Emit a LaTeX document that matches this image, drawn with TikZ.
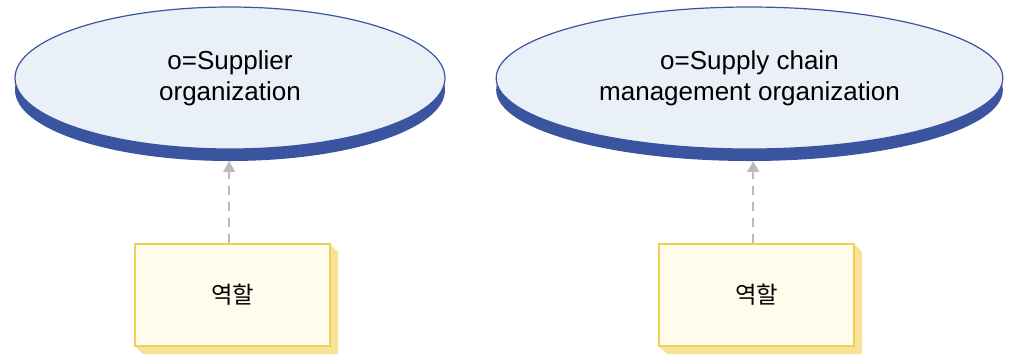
\documentclass[tikz,border=0pt]{standalone}
\usepackage{fontspec}
\setmainfont{Liberation Sans}
\newfontfamily\krfont{Noto Sans CJK KR}
\usetikzlibrary{shapes.geometric,arrows.meta}

\definecolor{orgfill}{HTML}{EAF0F7}
\definecolor{orgline}{HTML}{3B54A0}
\definecolor{rolefill}{HTML}{FFFCEC}
\definecolor{roleline}{HTML}{F2CE55}
\definecolor{roleshade}{HTML}{F8E29A}
\definecolor{linkgray}{HTML}{BBBBBB}

\tikzset{
  orgnode/.style={ellipse, draw=orgline, line width=0.9pt, fill=orgfill, inner sep=0pt,
    minimum height=106.5pt, align=center, font=\fontsize{19.5}{23.5}\selectfont},
  orgshade/.style={ellipse, fill=orgline, inner sep=0pt, minimum height=106.5pt},
  rolebox/.style={rectangle, draw=roleline, line width=1.1pt, fill=rolefill, inner sep=0pt,
    minimum width=146pt, minimum height=76.5pt, font=\krfont\fontsize{17.5}{20}\selectfont},
  rolelink/.style={draw=linkgray, line width=1.1pt, dash pattern=on 7pt off 5pt,
    -{Triangle[width=9pt,length=8pt]}}
}

\begin{document}
\begin{tikzpicture}[x=0.75pt,y=-0.75pt]
  \useasboundingbox (0,0) rectangle (1016,355);

  % directory entries
  \node[orgshade, minimum width=322.5pt] (supshade) at (230,90) {};
  \node[orgnode, minimum width=322.5pt] (sup) at (230,78) {o=Supplier\\organization};
  \node[orgshade, minimum width=380pt] (scmshade) at (749.5,90) {};
  \node[orgnode, minimum width=380pt] (scm) at (749.5,78) {o=Supply chain\\management organization};

  % roles with their raised edge
  \fill[roleshade] (330,244) -- (338,252) -- (338,354) -- (143,354) -- (135,346) -- cycle;
  \node[rolebox] (suprole) at (232.5,295) {역할};
  \fill[roleshade] (854,244) -- (862,252) -- (862,354) -- (667,354) -- (659,346) -- cycle;
  \node[rolebox] (scmrole) at (756.5,295) {역할};

  % links
  \draw[rolelink] ([xshift=-2.5]suprole.north) -- ([xshift=-2.5]suprole.north |- supshade.south);
  \draw[rolelink] ([xshift=-2.5]scmrole.north) -- ([xshift=-2.5]scmrole.north |- scmshade.south);
\end{tikzpicture}
\end{document}
